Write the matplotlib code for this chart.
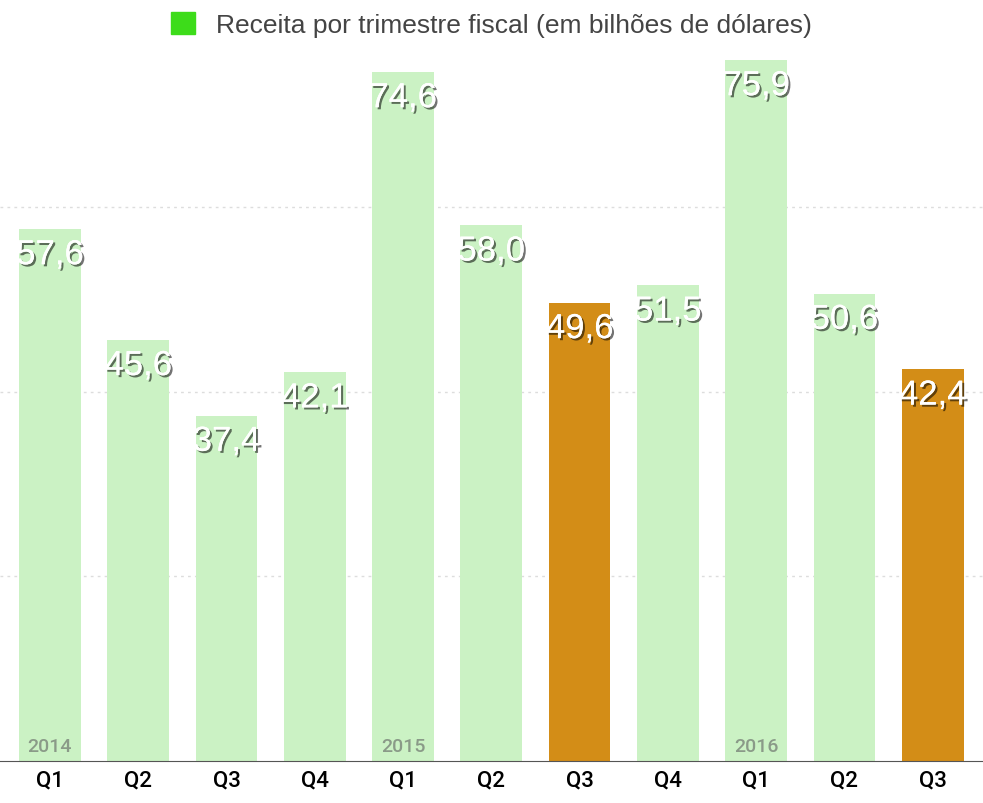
import matplotlib.pyplot as plt
import matplotlib.patheffects as pe
from matplotlib.patches import Patch

quarters = ["Q1", "Q2", "Q3", "Q4", "Q1", "Q2", "Q3", "Q4", "Q1", "Q2", "Q3"]
revenue = [57.6, 45.6, 37.4, 42.1, 74.6, 58.0, 49.6, 51.5, 75.9, 50.6, 42.4]
highlight = [False, False, False, False, False, False, True, False, False, False, True]
years = {0: "2014", 4: "2015", 8: "2016"}

green = "#cbf2c4"
orange = "#d38d17"

fig = plt.figure(figsize=(9.83, 8.04), dpi=100)
ax = fig.add_axes([0, 42 / 804, 1, 762 / 804])

x = list(range(len(revenue)))
colors = [orange if h else green for h in highlight]
ax.bar(x, revenue, width=0.7, color=colors, zorder=2)

ax.set_xlim(-0.566, 10.57)
ax.set_ylim(0, 82.5)
for y in [20, 40, 60]:
    ax.axhline(y, color="#dddddd", linestyle=(0, (2, 3)), linewidth=1, zorder=1)

for spine in ["top", "left", "right"]:
    ax.spines[spine].set_visible(False)
ax.spines["bottom"].set_color("#555555")
ax.set_yticks([])
ax.set_xticks(x)
ax.set_xticklabels(quarters, fontsize=16, fontfamily="Roboto", fontweight="medium")
ax.tick_params(axis="x", length=0, pad=6)

shadow = [pe.withSimplePatchShadow(offset=(1.5, -1.5), shadow_rgbFace="black", alpha=0.55),
          pe.Normal()]
for i, v in enumerate(revenue):
    ax.text(i, v - 1.0, f"{v:.1f}".replace(".", ","), ha="center", va="top",
            fontsize=25, color="white", fontfamily="Liberation Sans",
            path_effects=shadow, zorder=3)
for i, yr in years.items():
    ax.text(i, 0.6, yr, ha="center", va="bottom", fontsize=14,
            color="#8a9a88", fontfamily="Roboto", fontweight="medium", zorder=3)

fig.legend(handles=[Patch(color="#3ddc1a")],
           labels=["Receita por trimestre fiscal (em bilhões de dólares)"],
           loc="center", bbox_to_anchor=(0.5, 0.968), frameon=False,
           prop={"family": "Liberation Sans", "size": 19},
           handlelength=0.9, handleheight=0.9, labelcolor="#444444")

fig.savefig("out.png", dpi=100)
